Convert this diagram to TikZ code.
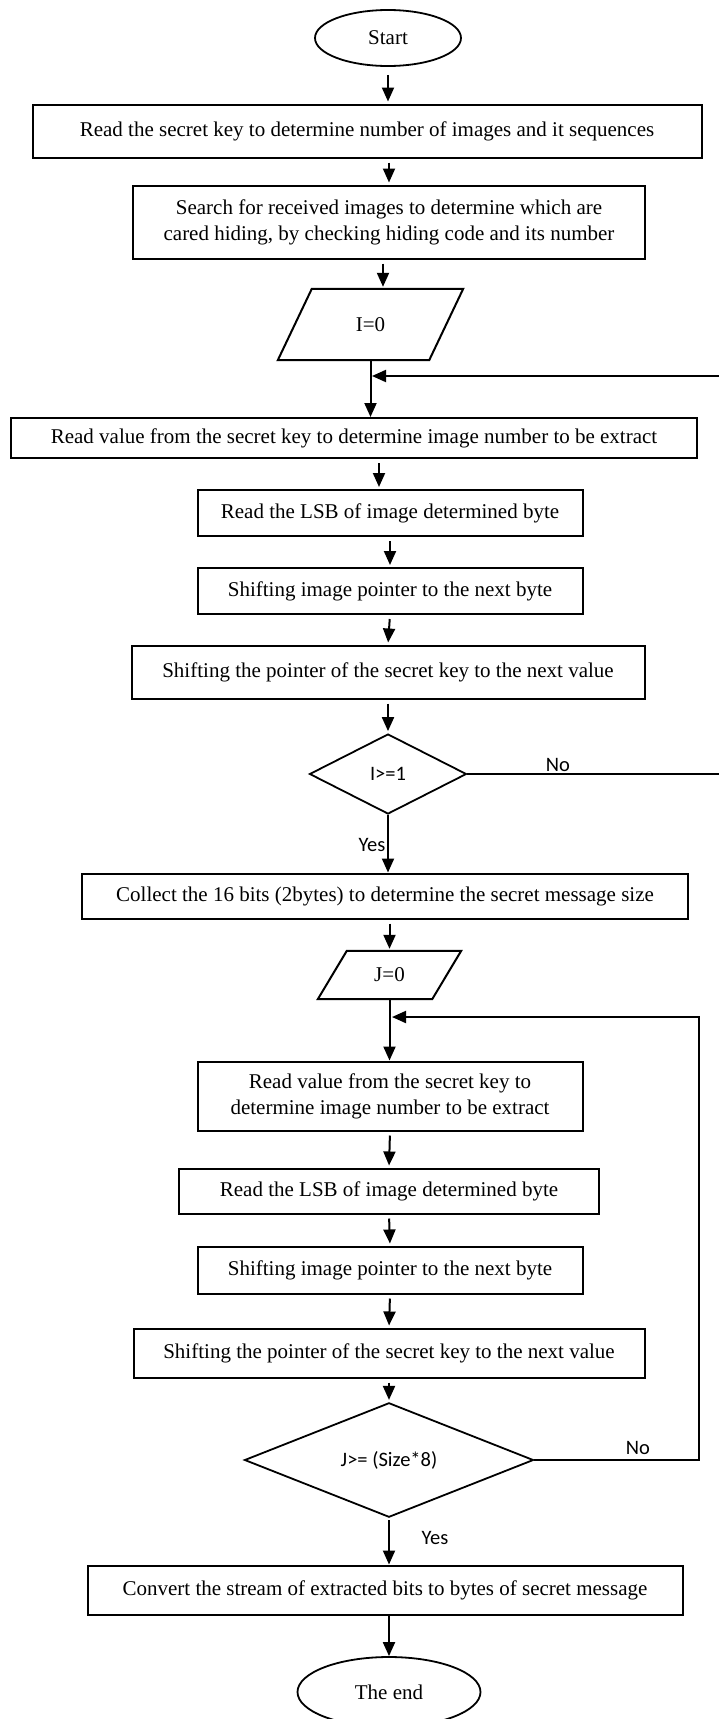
\documentclass[tikz,border=0pt]{standalone}
\usepackage{fontspec}
\setmainfont{Liberation Serif}
\newfontfamily\sansf{Carlito}
\usetikzlibrary{shapes.geometric,arrows.meta,calc}
\begin{document}
\begin{tikzpicture}[x=1pt,y=-1pt,
  every node/.style={font=\fontsize{21}{26}\selectfont},
  box/.style={draw,line width=2pt,rectangle,inner sep=0pt,align=center},
  oval/.style={draw,line width=1.8pt,ellipse,inner sep=0pt},
  dia/.style={draw,line width=1.8pt,diamond,inner sep=0pt,font=\sansf\fontsize{20.5}{24}\selectfont},
  lbl/.style={font=\sansf\fontsize{20.5}{24}\selectfont,inner sep=0pt},
  pbox/.style={inner sep=0pt},
  arr/.style={line width=2pt,-{Triangle[width=12pt,length=14pt]},shorten <=4pt,shorten >=2pt},
  ln/.style={line width=2pt},
  larr/.style={line width=2pt,-{Triangle[width=12pt,length=14pt]}}]
\useasboundingbox (0,0) rectangle (718,1719);

\node[oval,minimum width=146pt,minimum height=56pt] (start) at (388,38) {Start};
\node[box,minimum width=669pt,minimum height=53pt] (b1) at (367,131) {Read the secret key to determine number of images and it sequences};
\node[box,minimum width=512pt,minimum height=73pt] (b2) at (389,222) {Search for received images to determine which are\\cared hiding, by checking hiding code and its number};
\node[pbox,minimum width=185pt,minimum height=71pt] (p1) at (370.5,324.5) {I=0};
\draw[ln] ($(p1.north west)+(34,0)$) -- (p1.north east) -- ($(p1.south east)+(-34,0)$) -- (p1.south west) -- cycle;
\node[box,minimum width=686pt,minimum height=40pt] (b3) at (354,438) {Read value from the secret key to determine image number to be extract};
\node[box,minimum width=385pt,minimum height=46pt] (b4) at (390,513) {Read the LSB of image determined byte};
\node[box,minimum width=385pt,minimum height=46pt] (b5) at (390,591) {Shifting image pointer to the next byte};
\node[box,minimum width=513pt,minimum height=53pt] (b6) at (388,672) {Shifting the pointer of the secret key to the next value};
\node[dia,minimum width=157pt,minimum height=80pt] (d1) at (388,774) {I>=1};
\node[box,minimum width=606pt,minimum height=45pt] (b7) at (385,896) {Collect the 16 bits (2bytes) to determine the secret message size};
\node[pbox,minimum width=143pt,minimum height=48pt] (p2) at (389.5,975) {J=0};
\draw[ln] ($(p2.north west)+(29,0)$) -- (p2.north east) -- ($(p2.south east)+(-29,0)$) -- (p2.south west) -- cycle;
\node[box,minimum width=385pt,minimum height=69pt] (b8) at (390,1096) {Read value from the secret key to\\determine image number to be extract};
\node[box,minimum width=420pt,minimum height=45pt] (b9) at (389,1191) {Read the LSB of image determined byte};
\node[box,minimum width=385pt,minimum height=47pt] (b10) at (390,1270) {Shifting image pointer to the next byte};
\node[box,minimum width=511pt,minimum height=49pt] (b11) at (389,1353) {Shifting the pointer of the secret key to the next value};
\node[dia,minimum width=289pt,minimum height=107pt] (d2) at (389,1460) {J>= (Size*8)};
\node[box,minimum width=595pt,minimum height=49pt] (b12) at (385,1590) {Convert the stream of extracted bits to bytes of secret message};
\node[oval,minimum width=183pt,minimum height=70pt] (end) at (389,1692) {The end};

\node[lbl] (no1) at (558,765) {No};
\node[lbl] (yes1) at (372,845) {Yes};
\node[lbl] (no2) at (638,1448) {No};
\node[lbl] (yes2) at (435,1538) {Yes};

\coordinate (rx1) at (719.5,0);
\coordinate (rx2) at (699,0);
\coordinate (j1) at (372,376);
\coordinate (j2) at (392,1017);

\draw[arr,shorten <=8pt] (start.south) -- (start.south |- b1.north);
\draw[arr] (b2.north |- b1.south) -- (b2.north);
\draw[arr] (b2.south -| 383,0) -- (383,0 |- p1.north);
\draw[ln] (p1.south) -- (p1.south |- j1);
\draw[larr] (p1.south |- j1) -- (p1.south |- b3.north);
\draw[arr] (b3.south -| 379,0) -- (379,0 |- b4.north);
\draw[arr] (b4.south) -- (b5.north);
\draw[arr] (b5.south) -- (b6.north);
\draw[arr] (b6.south) -- (d1.north);
\draw[ln] (d1.east) -- (d1.east -| rx1) -- (rx1 |- j1) -- ($(j1)+(14,0)$);
\draw[larr] ($(j1)+(14,0)$) -- (j1);
\draw[larr] (d1.south) -- (d1.south |- b7.north);
\draw[arr] (b7.south -| p2.north) -- (p2.north);
\draw[ln] (p2.south) -- (p2.south |- j2);
\draw[larr] (p2.south |- j2) -- (p2.south |- b8.north);
\draw[ln] (d2.east) -- (d2.east -| rx2) -- (rx2 |- j2) -- ($(j2)+(14,0)$);
\draw[larr] ($(j2)+(14,0)$) -- (j2);
\draw[arr] (b8.south) -- (b9.north);
\draw[arr] (b9.south) -- (b10.north);
\draw[arr] (b10.south) -- (b11.north);
\draw[arr] (b11.south) -- (d2.north);
\draw[larr,shorten <=2pt] (d2.south) -- (d2.south |- b12.north);
\draw[larr] (b12.south -| end.north) -- (end.north);
\end{tikzpicture}
\end{document}
